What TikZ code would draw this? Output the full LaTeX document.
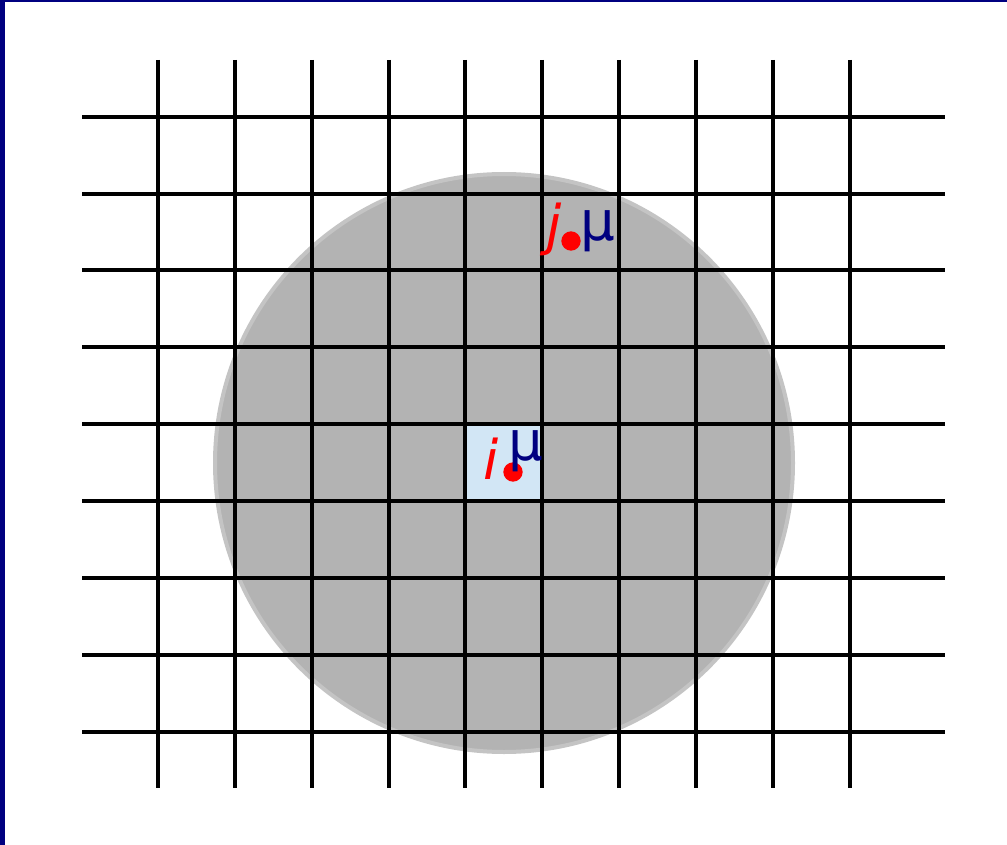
\documentclass[tikz,border=0pt]{standalone}
\usepackage{fontspec}
\setmainfont{DejaVu Sans}
\definecolor{frameBlue}{RGB}{0,0,128}
\definecolor{discGray}{RGB}{179,179,179}
\definecolor{discEdge}{RGB}{196,196,196}
\definecolor{cellBlue}{RGB}{210,230,245}
\definecolor{muBlue}{RGB}{0,0,128}
\usetikzlibrary{positioning}

\begin{document}
\begin{tikzpicture}[x=0.75pt,y=-0.75pt,
  gridline/.style={line width=2.6pt,black},
  site/.style={circle,fill=red,inner sep=0pt,minimum size=14.5pt},
  idx/.style={text=red,font=\fontsize{41}{48}\selectfont\itshape,inner sep=0pt,anchor=base},
  mulabel/.style={text=muBlue,font=\fontsize{41}{48}\selectfont,inner sep=0pt,anchor=base}]
\useasboundingbox (0,0) rectangle (1007,845);
% frame of the slide
\fill[frameBlue] (0,0) rectangle (1007,2);
\fill[frameBlue] (0,0) rectangle (4.5,845);
% cutoff disc and the central cell
\fill[discGray,draw=discEdge,line width=3pt] (504,463) circle[radius=289];
\fill[cellBlue,draw=gray!70,line width=0.6pt] (465,424) rectangle (542,501);
% lattice
\foreach \x in {158,235,312,389,465,542,619,696,773,850}{
  \draw[gridline] (\x,60) -- (\x,788);
}
\foreach \y in {117,194,270,347,424,501,578,655,732}{
  \draw[gridline] (82,\y) -- (945,\y);
}
% particles i and j
\node[idx] (labi) at (491,479) {i};
\node[site] (doti) at (513,472) {};
\node[mulabel] (mui) at (525.5,460) {μ};
\node[idx] (labj) at (554,244) {j};
\node[site] (dotj) at (571,241) {};
\node[mulabel] (muj) at (597.5,240) {μ};
\end{tikzpicture}
\end{document}
